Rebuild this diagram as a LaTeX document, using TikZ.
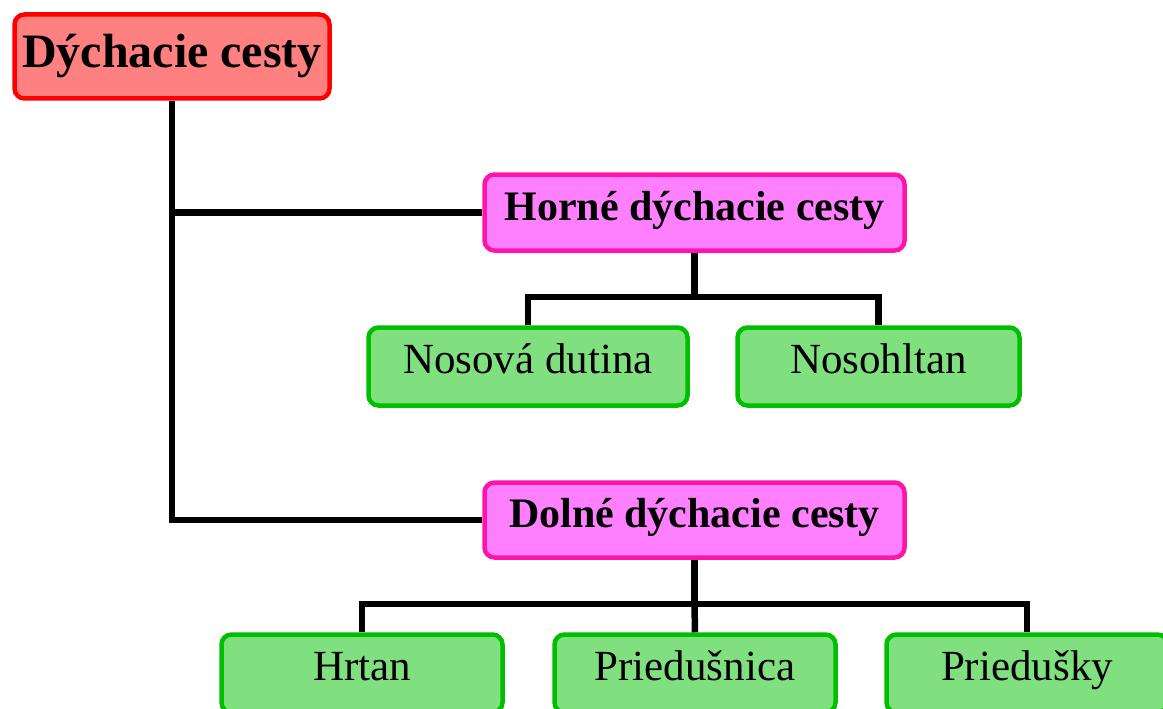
\documentclass[tikz,border=0pt]{standalone}
\usepackage{fontspec}
\setmainfont{Liberation Serif}
\definecolor{rootfill}{RGB}{255,128,128}
\definecolor{rootline}{RGB}{255,0,0}
\definecolor{midfill}{RGB}{255,128,255}
\definecolor{midline}{RGB}{255,20,170}
\definecolor{leaffill}{RGB}{128,224,128}
\definecolor{leafline}{RGB}{0,190,0}
\begin{document}
\begin{tikzpicture}[x=1pt,y=-1pt,
  box/.style={rectangle,rounded corners=10pt,line width=4.5pt,inner sep=0pt,anchor=center},
  rootbox/.style={box,draw=rootline,fill=rootfill,minimum width=315pt,minimum height=84pt,
    font=\fontsize{48}{56}\selectfont\bfseries,text height=36pt,text depth=15pt},
  midbox/.style={box,draw=midline,fill=midfill,minimum width=420pt,minimum height=76pt,
    font=\fontsize{42}{50}\selectfont\bfseries,text height=30pt,text depth=15pt},
  leafbox/.style={box,draw=leafline,fill=leaffill,minimum height=78pt,
    font=\fontsize{43}{50}\selectfont,text height=30pt,text depth=17pt},
  conn/.style={draw=black,line width=6.5pt}]
\useasboundingbox (0,0) rectangle (1163,709);
\clip (0,0) rectangle (1163,709);
\node[rootbox] (root) at (172,56.5) {Dýchacie cesty};
\node[midbox] (horne) at (694.5,212.5) {Horné dýchacie cesty};
\node[midbox,minimum height=75pt] (dolne) at (694.5,520) {Dolné dýchacie cesty};
\node[leafbox,minimum width=319pt] (nosova) at (528,366.5) {Nosová dutina};
\node[leafbox,minimum width=282pt] (nosohltan) at (878.5,366.5) {Nosohltan};
\node[leafbox,minimum width=281pt] (hrtan) at (362,673.5) {Hrtan};
\node[leafbox,minimum width=281pt] (priedusnica) at (695,673.5) {Priedušnica};
\node[leafbox,minimum width=281pt] (priedusky) at (1027,673.5) {Priedušky};
\draw[conn] (root.south) |- (dolne.west);
\draw[conn] (root.south |- horne.west) -- (horne.west);
\draw[conn] (horne.south) -- ++(0,44) coordinate (hb);
\draw[conn] (nosova.north) |- (hb) -| (nosohltan.north);
\draw[conn] (dolne.south) -- ++(0,44) coordinate (db);
\draw[conn] (hrtan.north) |- (db) -| (priedusky.north);
\draw[conn] (db) -- (priedusnica.north);
\end{tikzpicture}
\end{document}
